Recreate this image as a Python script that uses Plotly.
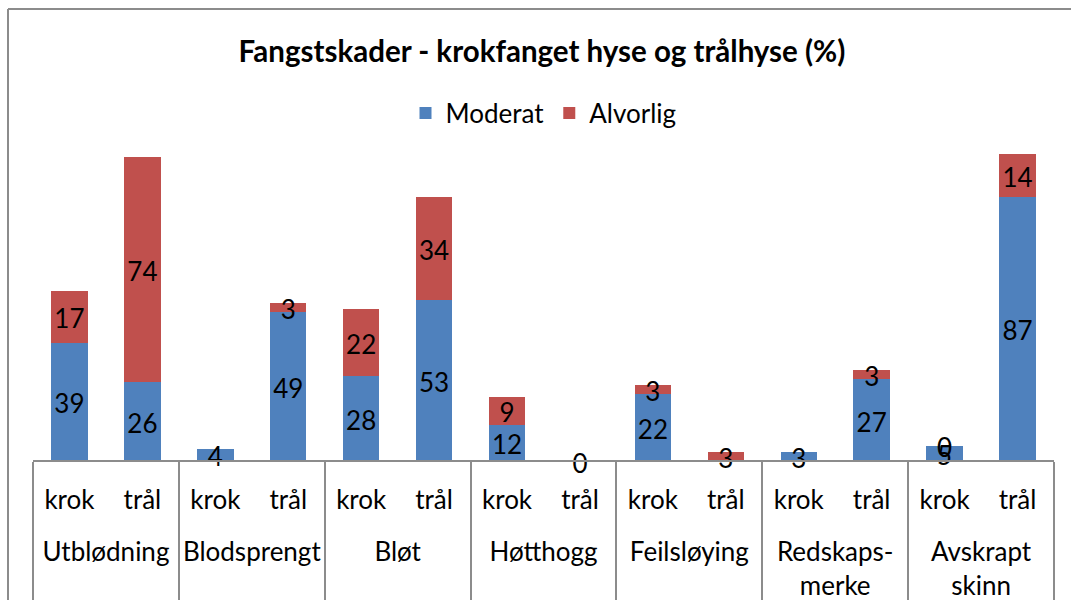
import plotly.graph_objects as go

groups = ["Utblødning", "Blodsprengt", "Bløt", "Høtthogg", "Feilsløying",
          "Redskaps-<br>merke", "Avskrapt<br>skinn"]
subs = ["krok", "trål"]

# values per bar (krok, trål for each group); None = no label shown
moderat = [39, 26, 4, 49, 28, 53, 12, 0, 22, None, 3, 27, 5, 87]
alvorlig = [17, 74, None, 3, 22, 34, 9, None, 3, 3, None, 3, 0, 14]

x_group = ["<br>" + g for g in groups for _ in subs]
x_sub = [s for _ in groups for s in subs]
x = [x_group, x_sub]

mod_v = [v if v is not None else 0 for v in moderat]
alv_v = [v if v is not None else 0 for v in alvorlig]

BLUE = "#4F81BD"
RED = "#C0504D"
FONT = "Lato"
GRAY = "#8C8C8C"
FS = 26

W, H = 1071, 600
BASE_Y = 461          # pixel row of the category axis
EXTRA = 20            # plot area extends below axis so low labels stay visible
L, R, T = 33, 17, 127
B = H - BASE_Y - EXTRA
pw, ph = W - L - R, H - T - B
YMAX = 110
K = (BASE_Y - T) / YMAX   # px per unit
YMIN = -EXTRA / K
LABEL_DY = -5 / K         # Excel places labels ~5px lower than geometric centre

fig = go.Figure()
fig.add_trace(go.Bar(x=x, y=mod_v, name="Moderat", marker=dict(color=BLUE, line=dict(width=0)),
                     hoverinfo="skip"))
fig.add_trace(go.Bar(x=x, y=alv_v, name="Alvorlig", marker=dict(color=RED, line=dict(width=0)),
                     hoverinfo="skip"))

# data labels centred in each segment
lx0, lx1, ly, lt = [], [], [], []
for i in range(len(moderat)):
    if moderat[i] is not None:
        lx0.append(x_group[i]); lx1.append(x_sub[i])
        ly.append(mod_v[i] / 2 + LABEL_DY); lt.append(str(moderat[i]))
    if alvorlig[i] is not None:
        lx0.append(x_group[i]); lx1.append(x_sub[i])
        ly.append(mod_v[i] + alv_v[i] / 2 + LABEL_DY); lt.append(str(alvorlig[i]))
fig.add_trace(go.Scatter(x=[lx0, lx1], y=ly, text=lt, mode="text", showlegend=False,
                         textfont=dict(family=FONT, size=FS, color="black"),
                         textposition="middle center", hoverinfo="skip", cliponaxis=False))

# chart-area border (left and top edges visible in the crop)
bx0 = (8 - L) / pw
bx1 = (W + 5 - L) / pw
by1 = (H - B - 9) / ph

fig.update_layout(
    width=W, height=H,
    margin=dict(l=L, r=R, t=T, b=B, autoexpand=False),
    paper_bgcolor="white", plot_bgcolor="white",
    barmode="stack", bargap=0.5,
    font=dict(family=FONT, size=FS, color="black"),
    title=dict(text="<b>Fangstskader - krokfanget hyse og trålhyse (%)</b>",
               x=542 / W, xanchor="center", xref="container",
               y=1 - 52 / H, yanchor="middle", yref="container",
               font=dict(family=FONT, size=29.5, color="black")),
    legend=dict(orientation="h", x=0.5, xanchor="center", y=1 + (T - 113) / ph, yanchor="middle",
                font=dict(family=FONT, size=FS), traceorder="normal"),
    xaxis=dict(type="multicategory", showline=True, linecolor=GRAY, linewidth=2,
               anchor="free", position=EXTRA / ph,
               range=[-0.5, 13.5], autorange=False, automargin=False,
               showdividers=True, dividercolor=GRAY, dividerwidth=2,
               tickfont=dict(family=FONT, size=FS, color="black"), showgrid=False,
               ticks="", ticklabelstandoff=16),
    yaxis=dict(visible=False, range=[YMIN, YMAX], showgrid=False, zeroline=False, automargin=False),
    shapes=[
        dict(type="line", xref="paper", yref="paper", x0=bx0, x1=bx0, y0=-0.5, y1=by1,
             line=dict(color=GRAY, width=2), layer="below"),
        dict(type="line", xref="paper", yref="paper", x0=bx0, x1=bx1, y0=by1, y1=by1,
             line=dict(color=GRAY, width=2), layer="below"),
    ],
)

fig.write_html(
    "out.html", config={"displayModeBar": False},
    post_script=("document.documentElement.style.overflow='hidden';"
                 "document.body.style.margin='0';document.body.style.overflow='hidden';"))
